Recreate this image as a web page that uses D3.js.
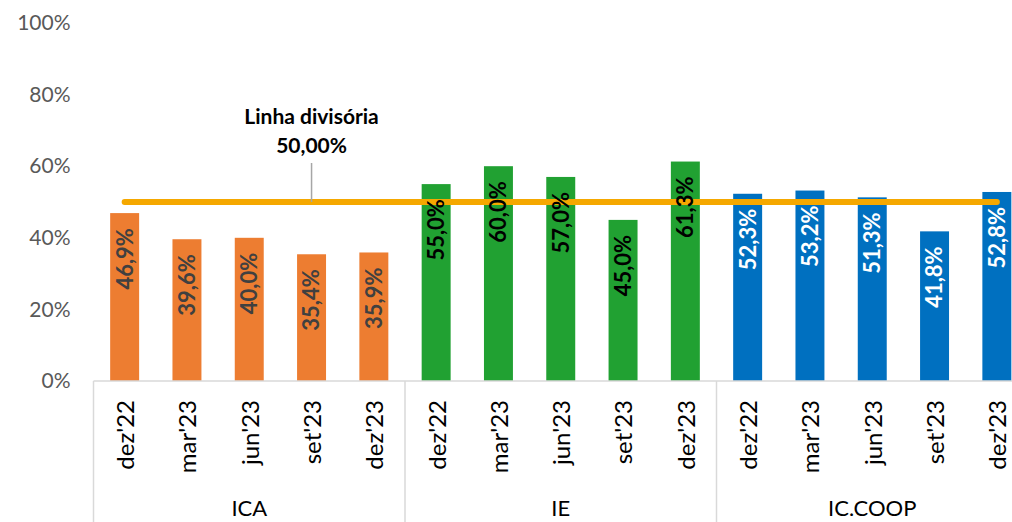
<!DOCTYPE html>
<html>
<head>
<meta charset="utf-8">
<script src="https://cdn.jsdelivr.net/npm/d3@7"></script>
<style>
  body { margin: 0; background: #fff; }
  svg { display: block; font-family: Lato, "Open Sans", sans-serif; }
</style>
</head>
<body>
<div id="chart"></div>
<script>
const width = 1012;
const height = 522;

// dados
var groups = ["ICA", "IE", "IC.COOP"];
var periods = ["dez'22", "mar'23", "jun'23", "set'23", "dez'23"];
var icaValues = [0.469, 0.396, 0.400, 0.354, 0.359];
var ieValues = [0.550, 0.600, 0.570, 0.450, 0.613];
var coopValues = [0.523, 0.532, 0.513, 0.418, 0.528];
var yTicks = [0, 0.2, 0.4, 0.6, 0.8, 1];
var dividerValue = 0.5;
var dividerLabel = ["Linha divisória", "50,00%"];

var groupColors = { "ICA": "#ED7D31", "IE": "#21A132", "IC.COOP": "#0070C0" };
var labelColors = { "ICA": "#404040", "IE": "#000000", "IC.COOP": "#ffffff" };

var seriesByGroup = { "ICA": icaValues, "IE": ieValues, "IC.COOP": coopValues };

// flat list of bars
var data = [];
groups.forEach(function(g) {
    periods.forEach(function(p, i) {
        data.push({ group: g, period: p, key: g + "|" + p, value: seriesByGroup[g][i] });
    });
});

var left = 93.5, right = 1028, axisY = 381, topY = 23;

var x = d3.scaleBand()
    .domain(data.map(function(d) { return d.key; }))
    .range([left, right])
    .paddingInner(0.535)
    .paddingOuter(0.2675);

var xGroup = d3.scaleBand()
    .domain(groups)
    .range([left, right]);

var y = d3.scaleLinear()
    .domain([0, 1])
    .range([axisY, topY]);

var svg = d3.select("#chart")
    .append("svg")
    .attr("width", width)
    .attr("height", height);

// y axis labels
var yAxis = svg.append("g")
    .attr("transform", "translate(" + left + ",0)")
    .call(d3.axisLeft(y).tickValues(yTicks).tickFormat(d3.format(".0%")).tickSize(0).tickPadding(23));
yAxis.select(".domain").remove();
yAxis.selectAll("text")
    .attr("fill", "#595959")
    .style("font-size", "21px")
    .style("font-family", "Lato, 'Open Sans', sans-serif");

// bars
svg.append("g")
    .selectAll("rect")
    .data(data)
    .enter().append("rect")
    .attr("x", function(d) { return x(d.key); })
    .attr("y", function(d) { return y(d.value); })
    .attr("width", x.bandwidth())
    .attr("height", function(d) { return y(0) - y(d.value); })
    .attr("fill", function(d) { return groupColors[d.group]; });

// category axis
var xAxis = svg.append("g")
    .attr("transform", "translate(0," + axisY + ")")
    .call(d3.axisBottom(x).tickSize(0).tickFormat(function(d) { return d.split("|")[1]; }));
xAxis.select(".domain").remove();
xAxis.selectAll("text")
    .attr("transform", "rotate(-90)")
    .attr("x", -19)
    .attr("y", 1)
    .attr("dy", "0.35em")
    .attr("text-anchor", "end")
    .attr("fill", "#000")
    .style("font-size", "24px")
    .style("font-family", "Lato, 'Open Sans', sans-serif");

// axis line + group separators
svg.append("line")
    .attr("x1", left).attr("x2", right)
    .attr("y1", axisY).attr("y2", axisY)
    .attr("stroke", "#d9d9d9").attr("stroke-width", 1.5);

svg.append("g")
    .selectAll("line")
    .data(groups)
    .enter().append("line")
    .attr("x1", function(g) { return xGroup(g); })
    .attr("x2", function(g) { return xGroup(g); })
    .attr("y1", axisY)
    .attr("y2", height)
    .attr("stroke", "#d9d9d9")
    .attr("stroke-width", 1.5);

svg.append("g")
    .selectAll("text")
    .data(groups)
    .enter().append("text")
    .attr("x", function(g) { return xGroup(g) + xGroup.bandwidth() / 2; })
    .attr("y", 516)
    .attr("text-anchor", "middle")
    .attr("fill", "#000")
    .style("font-size", "22px")
    .text(function(g) { return g; });

// divider line
var first = data[0], last = data[data.length - 1];
svg.append("line")
    .attr("x1", x(first.key) + x.bandwidth() / 2)
    .attr("x2", x(last.key) + x.bandwidth() / 2)
    .attr("y1", y(dividerValue))
    .attr("y2", y(dividerValue))
    .attr("stroke", "#F5A800")
    .attr("stroke-width", 6)
    .attr("stroke-linecap", "round");

// bar value labels
svg.append("g")
    .selectAll("text")
    .data(data)
    .enter().append("text")
    .attr("transform", function(d) {
        return "translate(" + (x(d.key) + x.bandwidth() / 2) + "," + y(d.value) + ") rotate(-90)";
    })
    .attr("x", -15)
    .attr("dy", "0.36em")
    .attr("text-anchor", "end")
    .attr("fill", function(d) { return labelColors[d.group]; })
    .style("font-size", "22px")
    .style("font-weight", "bold")
    .text(function(d) { return d3.format(".1f")(d.value * 100).replace(".", ",") + "%"; });

// annotation
var annX = x("ICA|set'23") + x.bandwidth() / 2;
svg.append("line")
    .attr("x1", annX).attr("x2", annX)
    .attr("y1", 163).attr("y2", y(dividerValue))
    .attr("stroke", "#a6a6a6").attr("stroke-width", 1.5);

svg.append("g")
    .selectAll("text")
    .data(dividerLabel)
    .enter().append("text")
    .attr("x", annX)
    .attr("y", function(d, i) { return 124 + i * 29; })
    .attr("text-anchor", "middle")
    .attr("fill", "#000")
    .style("font-size", "21px")
    .style("font-weight", "bold")
    .text(function(d) { return d; });
</script>
</body>
</html>
